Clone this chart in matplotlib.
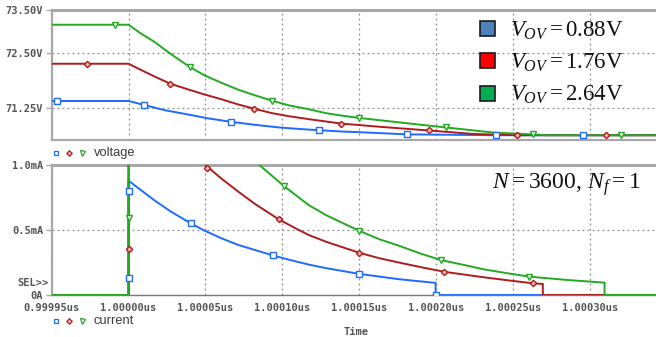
import numpy as np
import matplotlib
matplotlib.use("Agg")
import matplotlib.pyplot as plt
from matplotlib.lines import Line2D
from matplotlib.patches import Rectangle

# ---------------- data (time as ps offset from 1.00000us) ----------------
tick_ps = [-50, 0, 50, 100, 150, 200, 250, 300]
tick_labels = ["0.99995us", "1.00000us", "1.00005us", "1.00010us",
               "1.00015us", "1.00020us", "1.00025us", "1.00030us"]
legend_values = ["0.88", "1.76", "2.64"]

# voltage panel (V)
tv_blue = [-50, 0, 10, 23.2, 38.5, 51.6, 66.5, 82.2, 97.6, 110.7, 124, 139, 150, 181, 210, 238.6, 347]
v_blue = [71.40, 71.40, 71.31, 71.19, 71.09, 71.00, 70.92, 70.85, 70.79, 70.755, 70.725, 70.695,
          70.68, 70.63, 70.62, 70.61, 70.61]
tv_red = [-50, 0, 7.9, 16.6, 27, 38.5, 49.4, 60.4, 71.3, 81.8, 93.2, 104, 117.3, 138, 165, 195,
          224, 252, 285, 347]
v_red = [72.26, 72.26, 72.12, 71.97, 71.80, 71.67, 71.55, 71.44, 71.32, 71.22, 71.12, 71.05,
         70.98, 70.88, 70.80, 70.72, 70.64, 70.61, 70.61, 70.61]
tv_green = [-50, 0, 7.9, 16.6, 27.6, 40, 49.4, 60.4, 71.3, 82.2, 93, 104.1, 117, 128.2, 139,
            149.6, 175, 206, 237.5, 263, 272, 347]
v_green = [73.16, 73.16, 72.96, 72.77, 72.48, 72.18, 71.99, 71.82, 71.66, 71.53, 71.41, 71.30,
           71.21, 71.12, 71.06, 71.01, 70.91, 70.79, 70.67, 70.63, 70.61, 70.61]

mk_tv_blue = [-46.4, 10, 66.5, 124, 181, 238.6, 295]
mk_v_blue = [71.40, 71.31, 70.92, 70.725, 70.63, 70.61, 70.61]
mk_tv_red = [-27, 27, 81.8, 138, 195.3, 252.4, 310]
mk_v_red = [72.26, 71.80, 71.22, 70.88, 70.72, 70.61, 70.61]
mk_tv_green = [-8.5, 40, 93, 149.6, 206, 263, 320]
mk_v_green = [73.16, 72.18, 71.41, 71.01, 70.79, 70.63, 70.61]

# current panel (mA)
ti_blue = [-50, 0, 0, 5.7, 16.6, 27.6, 40.5, 49.4, 60.4, 71.3, 82.2, 93.6, 104.1, 117, 128.2,
           149.6, 176, 198, 199.5, 199.5, 347]
i_blue = [0, 0, 0.879, 0.828, 0.73, 0.641, 0.551, 0.495, 0.436, 0.385, 0.346, 0.305, 0.272,
          0.234, 0.207, 0.163, 0.121, 0.095, 0.095, 0, 0]
ti_red = [-50, 0, 0, 20, 40, 51.2, 60.4, 71.3, 82.2, 97.6, 108.5, 117, 128.2, 149.6, 163.2, 176,
          191.6, 206, 231, 248.5, 262.7, 269.2, 269.2, 347]
i_red = [0, 0, 1.76, 1.40, 1.12, 0.987, 0.895, 0.795, 0.70, 0.582, 0.513, 0.462, 0.410, 0.326,
         0.282, 0.249, 0.21, 0.177, 0.136, 0.11, 0.09, 0.085, 0, 0]
ti_green = [-50, 0, 0, 30, 60, 85, 101, 117, 128.2, 149.6, 163.2, 176, 189.4, 203, 220, 231,
            246.3, 260.5, 285.7, 309.3, 309.3, 347]
i_green = [0, 0, 2.6, 1.85, 1.32, 1.0, 0.838, 0.692, 0.615, 0.495, 0.428, 0.378, 0.32, 0.269,
           0.226, 0.197, 0.167, 0.141, 0.115, 0.095, 0, 0]

mk_ti_blue = [0, 0, 40.5, 93.6, 149.6, 199.5]
mk_i_blue = [0.133, 0.80, 0.551, 0.305, 0.163, 0.0]
mk_ti_red = [0, 51.2, 97.6, 149.6, 205, 262.7]
mk_i_red = [0.354, 0.98, 0.582, 0.326, 0.177, 0.09]
mk_ti_green = [0, 101, 149.6, 203, 260.5]
mk_i_green = [0.59, 0.838, 0.495, 0.269, 0.141]

# ---------------- styling ----------------
C_BLUE = "#1f6bff"
C_RED = "#b01c1c"
C_GREEN = "#22aa22"
LEG_COLORS = ["#4f81bd", "#ff0000", "#00b050"]
GRID_C = "#8c8c8c"
SPINE_C = "#a8a8a8"
TXT_C = "#3c3c3c"
TICK_C = "#555555"
MONO = "DejaVu Sans Mono"

plt.rcParams["mathtext.fontset"] = "custom"
plt.rcParams["mathtext.rm"] = "Liberation Serif"
plt.rcParams["mathtext.it"] = "Liberation Serif:italic"

W, H = 656, 337
fig = plt.figure(figsize=(W / 100, H / 100), dpi=100)

def fx(px):
    return px / W

def fy(py):
    return 1 - py / H

left = fx(51.6)
ax1 = fig.add_axes([left, fy(140), 1 - left + 0.01, 130 / H])
ax2 = fig.add_axes([left, fy(295), 1 - left + 0.01, 130 / H])

XMIN, XMAX = -50, 347
tick_font = dict(fontfamily=MONO, fontsize=7.5, color=TICK_C, fontweight="bold")

def style(ax, yticks, ylabels, show_x):
    ax.set_xlim(XMIN, XMAX)
    ax.set_xticks(tick_ps)
    ax.set_yticks(yticks)
    ax.set_yticklabels(ylabels, **tick_font)
    if show_x:
        ax.set_xticklabels(tick_labels, **tick_font)
    else:
        ax.set_xticklabels([])
    ax.tick_params(axis="y", length=4, width=1, color=SPINE_C, pad=2)
    ax.tick_params(axis="x", length=0, pad=5.5)
    ax.grid(True, color=GRID_C, linestyle=(0, (1.5, 2.5)), linewidth=0.9)
    ax.spines["right"].set_visible(False)
    ax.spines["top"].set_color(SPINE_C)
    ax.spines["top"].set_linewidth(2.2)
    ax.spines["left"].set_color(SPINE_C)
    ax.spines["left"].set_linewidth(1.6)
    ax.spines["bottom"].set_color(SPINE_C)
    ax.spines["bottom"].set_linewidth(1.6)
    ax.set_axisbelow(True)

lw = 1.4
RED_FACE = "#f2b8b8"

# top panel
ax1.set_ylim(70.5, 73.5)
style(ax1, [71.25, 72.5, 73.5], ["71.25V", "72.50V", "73.50V"], False)
ax1.plot(tv_blue, v_blue, color=C_BLUE, lw=lw, zorder=3)
ax1.plot(tv_red, v_red, color=C_RED, lw=lw, zorder=4)
ax1.plot(tv_green, v_green, color=C_GREEN, lw=lw, zorder=5)
ax1.plot(mk_tv_blue, mk_v_blue, marker="s", color=C_BLUE, markerfacecolor="white",
         linestyle="none", markersize=4.0, markeredgewidth=1.0, zorder=6)
ax1.plot(mk_tv_red, mk_v_red, marker="D", color=C_RED, markerfacecolor=RED_FACE,
         markersize=3.2, linestyle="none", markeredgewidth=1.0, zorder=6)
ax1.plot(mk_tv_green, mk_v_green, marker="v", color=C_GREEN, markerfacecolor="white",
         linestyle="none", markersize=4.2, markeredgewidth=1.0, zorder=6)

# bottom panel
ax2.set_ylim(0, 1.0)
style(ax2, [0, 0.5, 1.0], ["0A", "0.5mA", "1.0mA"], True)
ax2.spines["bottom"].set_color("#7a7a7a")
ax2.spines["bottom"].set_linewidth(1.0)
ax2.plot(ti_blue, i_blue, color=C_BLUE, lw=lw, zorder=3)
ax2.plot(ti_red, i_red, color=C_RED, lw=lw, zorder=4)
ax2.plot(ti_green, i_green, color=C_GREEN, lw=lw, zorder=5)
ax2.plot(mk_ti_blue, mk_i_blue, marker="s", color=C_BLUE, markerfacecolor="white",
         linestyle="none", markersize=4.0, markeredgewidth=1.0, zorder=6)
ax2.plot(mk_ti_red, mk_i_red, marker="D", color=C_RED, markerfacecolor=RED_FACE,
         markersize=3.2, linestyle="none", markeredgewidth=1.0, zorder=6)
ax2.plot(mk_ti_green, mk_i_green, marker="v", color=C_GREEN, markerfacecolor="white",
         linestyle="none", markersize=4.2, markeredgewidth=1.0, zorder=6)

fig.text(fx(356.5), fy(332), "Time", va="center", ha="center", **tick_font)

# label rows ("voltage", "current") with marker keys
for ypx, label in [(153, "voltage"), (320.5, "current")]:
    for xpx, m, c, fc, ms in [(56, "s", C_BLUE, "white", 3.4), (69, "D", C_RED, RED_FACE, 2.8),
                              (82, "v", C_GREEN, "white", 3.6)]:
        fig.add_artist(Line2D([fx(xpx)], [fy(ypx)], marker=m, color=c, markerfacecolor=fc,
                              markersize=ms, markeredgewidth=0.9, linestyle="none"))
    fig.text(fx(94), fy(ypx), label, fontfamily="Liberation Sans", fontsize=9.3,
             color=TXT_C, va="center", ha="left")

# SEL>>
fig.text(fx(17), fy(283.5), "SEL>>", va="center", ha="left", **tick_font)

# legend squares and texts
leg_rows = [(28.5, 36.5), (60, 68.5), (93, 100.5)]
for (cy, base), col, val in zip(leg_rows, LEG_COLORS, legend_values):
    s = 15
    fig.add_artist(Rectangle((fx(487 - s / 2), fy(cy + s / 2)), s / W, s / H,
                             facecolor=col, edgecolor="#1a1a1a", linewidth=1.2,
                             transform=fig.transFigure))
    fig.text(fx(510), fy(base), r"$V_{OV}{=}" + val + r"\mathrm{V}$", fontsize=16.5,
             color="#111111", va="baseline", ha="left")

fig.text(fx(492), fy(188.5), r"$N{=}3600,\,N_f{=}1$", fontsize=17,
         color="#111111", va="baseline", ha="left")

fig.savefig("out.png", dpi=100, facecolor="white")
